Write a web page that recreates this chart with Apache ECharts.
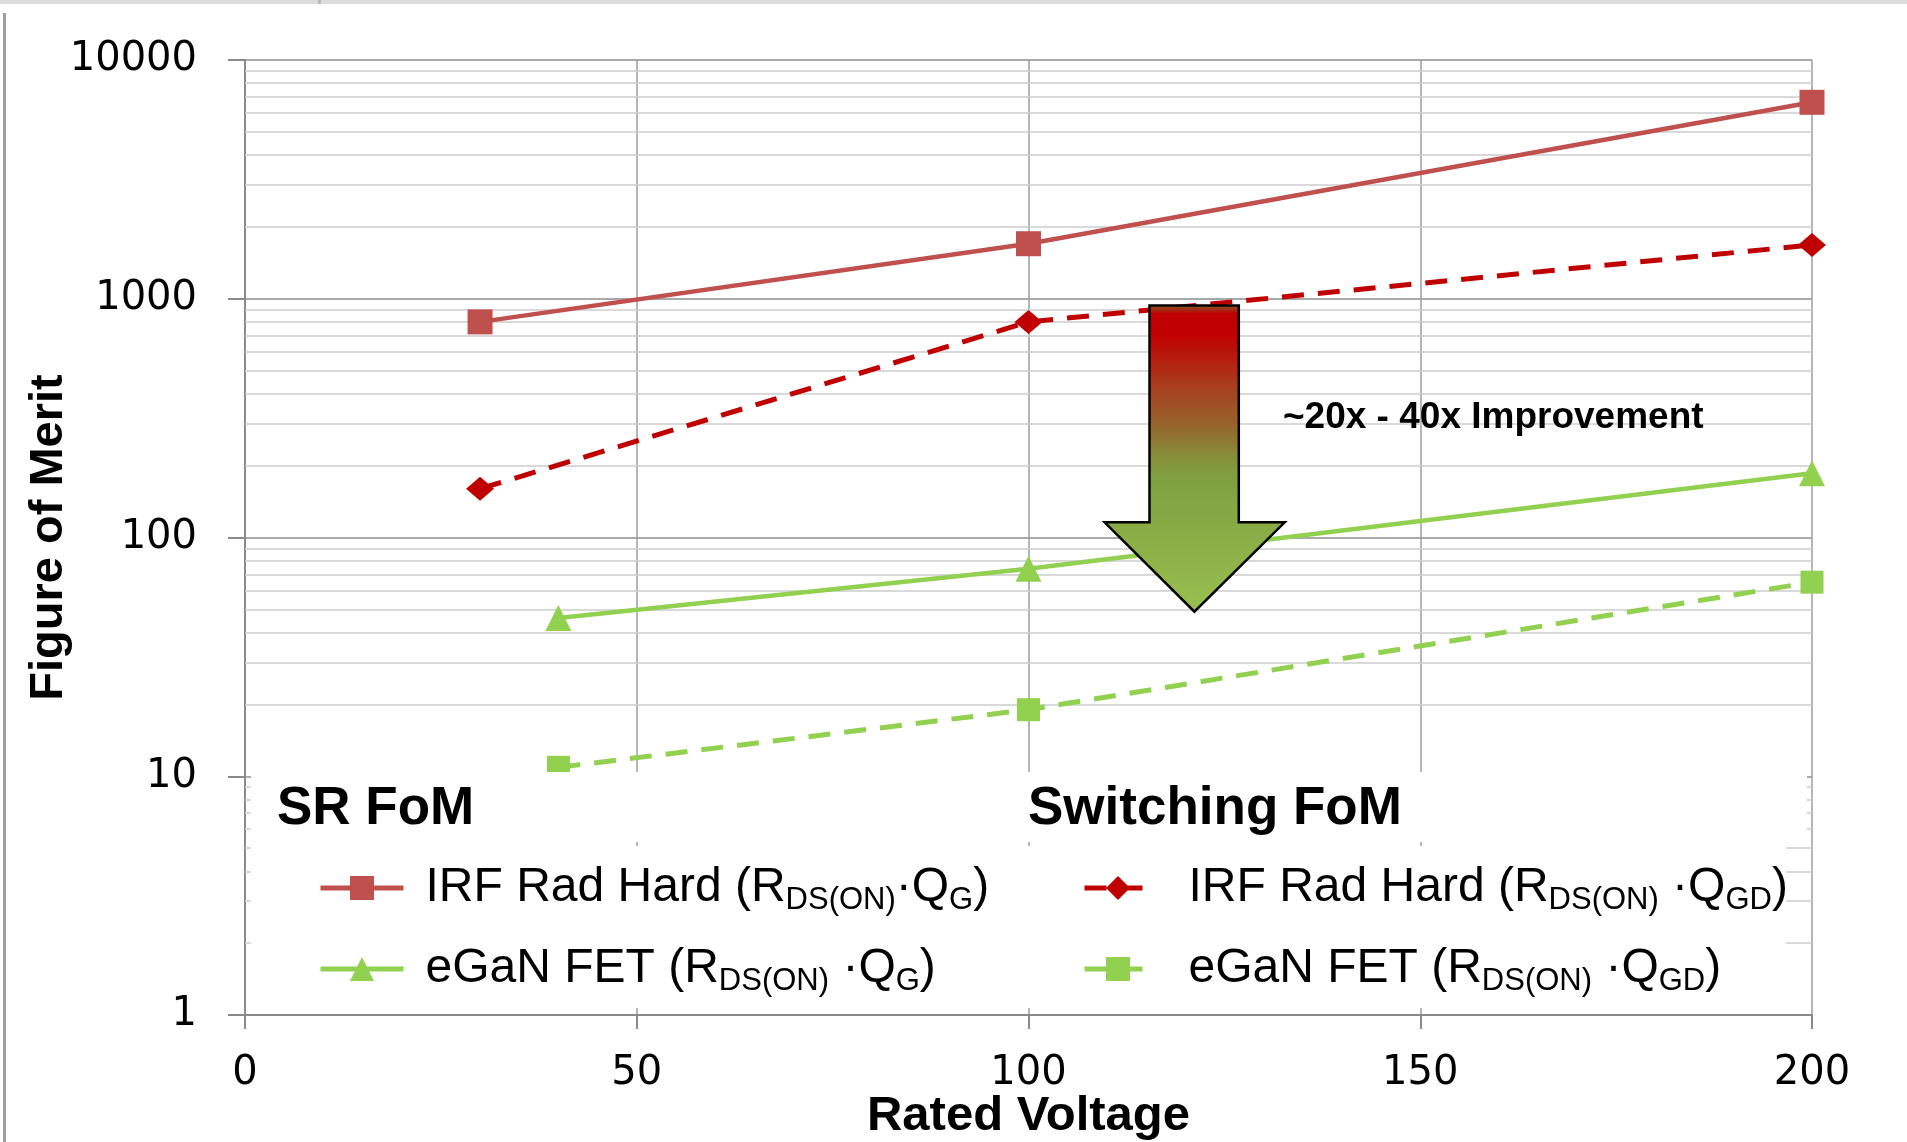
<!DOCTYPE html>
<html>
<head>
<meta charset="utf-8">
<script src="https://cdn.jsdelivr.net/npm/echarts@6/dist/echarts.min.js"></script>
<style>
html,body{margin:0;padding:0;background:#fff}
#main{width:1907px;height:1142px}
</style>
</head>
<body>
<div id="main"></div>
<script>
// 数据
var voltsIrf = [30, 100, 200];
var voltsGan = [40, 100, 200];
var irfQg = [800, 1700, 6650];
var irfQgd = [160, 800, 1680];
var ganQg = [46, 74, 186];
var ganQgd = [10.9, 19, 65];
var seriesNames = ['IRF Rad Hard QG', 'IRF Rad Hard QGD', 'eGaN FET QG', 'eGaN FET QGD'];
var legendLabels = {
	'IRF Rad Hard QG': '{p| }{m|IRF Rad Hard (R}{s|DS(ON)}{m|·Q}{s|G}{m|)}',
	'eGaN FET QG': '{p| }{m|eGaN FET (R}{s|DS(ON)}{m| ·Q}{s|G}{m|)}',
	'IRF Rad Hard QGD': '{p| }{m|IRF Rad Hard (R}{s|DS(ON)}{m| ·Q}{s|GD}{m|)}',
	'eGaN FET QGD': '{p| }{m|eGaN FET (R}{s|DS(ON)}{m| ·Q}{s|GD}{m|)}'
};
var yTicks = [1, 10, 100, 1000, 10000];
var minorSteps = [2, 3, 4, 5, 6, 7, 8, 9];

function pairs(xs, ys){
	var out = [];
	for (var i = 0; i < xs.length; i++) out.push([xs[i], ys[i]]);
	return out;
}

// 次网格线 (2..9 每个十倍程)
var minorLines = [];
for (var d = 0; d < yTicks.length - 1; d++) {
	for (var k = 0; k < minorSteps.length; k++) {
		minorLines.push({yAxis: yTicks[d] * minorSteps[k]});
	}
}

var FONT = 'Liberation Sans';
function makeRich(pad){
	return {
		p: {width: pad, fontSize: 10},
		m: {fontSize: 48, fontFamily: FONT, lineHeight: 56, color: '#000'},
		s: {fontSize: 31, fontFamily: FONT, lineHeight: 12, verticalAlign: 'bottom', color: '#000'}
	};
}
function legendFmt(name){ return legendLabels[name]; }

var red = '#C0504D', darkRed = '#C00000', green = '#92D050';

var arrowFill = new echarts.graphic.LinearGradient(0, 0, 0, 1, [
	{offset: 0, color: '#7a6a30'},
	{offset: 0.03, color: '#C00000'},
	{offset: 0.1, color: '#C00000'},
	{offset: 0.27, color: '#A8401E'},
	{offset: 0.38, color: '#97602A'},
	{offset: 0.5, color: '#86903A'},
	{offset: 0.56, color: '#7FA040'},
	{offset: 0.8, color: '#8DB048'},
	{offset: 1, color: '#99C050'}
]);

var myChart = echarts.init(document.getElementById('main'));
var option = {
	animation: false,
	backgroundColor: '#fff',
	grid: {left: 245, right: 95, top: 60, bottom: 127, containLabel: false, outerBoundsMode: 'none'},
	xAxis: {
		type: 'value', min: 0, max: 200, interval: 50,
		name: 'Rated Voltage', nameLocation: 'middle', nameGap: 77, nameMoveOverlap: false,
		nameTextStyle: {fontFamily: FONT, fontWeight: 'bold', fontSize: 49, color: '#000'},
		axisLine: {show: true, lineStyle: {color: '#8A8A8A', width: 2}},
		axisTick: {show: true, length: 14, lineStyle: {color: '#8A8A8A', width: 2}},
		axisLabel: {fontFamily: 'DejaVu Sans', fontSize: 40, color: '#000', margin: 39},
		splitLine: {show: true, lineStyle: {color: '#9C9C9C', width: 1.5}}
	},
	yAxis: {
		type: 'log', logBase: 10, min: 1, max: 10000,
		name: 'Figure of Merit', nameLocation: 'middle', nameGap: 172, nameRotate: 90, nameMoveOverlap: false,
		nameTextStyle: {fontFamily: FONT, fontWeight: 'bold', fontSize: 47, color: '#000'},
		axisLine: {show: true, lineStyle: {color: '#8A8A8A', width: 2}},
		axisTick: {show: true, length: 17, lineStyle: {color: '#8A8A8A', width: 2}},
		axisLabel: {fontFamily: 'DejaVu Sans', fontSize: 40, color: '#000', margin: 48,
			formatter: function(v){ return String(Math.round(v)); }},
		splitLine: {show: true, lineStyle: {color: '#8C8C8C', width: 1.5}}
	},
	legend: [
		{data: [seriesNames[0], seriesNames[2]], orient: 'vertical', left: 318, top: 864,
			itemWidth: 83, itemHeight: 30, itemGap: 29, padding: 0, selectedMode: false,
			lineStyle: {width: 5},
			formatter: legendFmt, textStyle: {fontSize: 48, fontFamily: FONT, rich: makeRich(17)}},
		{data: [seriesNames[1], seriesNames[3]], orient: 'vertical', left: 1082, top: 864,
			itemWidth: 67, itemHeight: 30, itemGap: 29, padding: 0, selectedMode: false,
			lineStyle: {width: 5},
			formatter: legendFmt, textStyle: {fontSize: 48, fontFamily: FONT, rich: makeRich(32)}}
	],
	series: [
		{name: 'minor', type: 'line', data: [], z: 1, silent: true,
			markLine: {silent: true, z: 1, symbol: ['none', 'none'], label: {show: false},
				lineStyle: {color: '#CDCDCD', width: 1.5, type: 'solid'}, emphasis: {disabled: true},
				data: minorLines}},
		{name: seriesNames[0], type: 'line', data: pairs(voltsIrf, irfQg), z: 2,
			symbol: 'rect', symbolSize: 25, itemStyle: {color: red},
			lineStyle: {color: red, width: 4.5}},
		{name: seriesNames[1], type: 'line', data: pairs(voltsIrf, irfQgd), z: 2,
			symbol: 'diamond', symbolSize: [28, 24], itemStyle: {color: darkRed},
			lineStyle: {color: darkRed, width: 5, type: [22, 14]}},
		{name: seriesNames[2], type: 'line', data: pairs(voltsGan, ganQg), z: 2,
			symbol: 'triangle', symbolSize: 26, itemStyle: {color: green},
			lineStyle: {color: green, width: 4.5}},
		{name: seriesNames[3], type: 'line', data: pairs(voltsGan, ganQgd), z: 2,
			symbol: 'rect', symbolSize: 23, itemStyle: {color: green},
			lineStyle: {color: green, width: 5, type: [22, 14]}}
	],
	graphic: [
		{type: 'rect', z: 10, shape: {x: 0, y: 0, width: 1907, height: 4}, style: {fill: '#DCDCDC'}},
		{type: 'rect', z: 10, shape: {x: 318, y: 0, width: 3, height: 4}, style: {fill: '#B8B8B8'}},
		{type: 'rect', z: 10, shape: {x: 3, y: 13, width: 3, height: 1129}, style: {fill: '#A0A0A0'}},
		// 图例背景
		{type: 'rect', z: 3, shape: {x: 251, y: 772, width: 1556, height: 70}, style: {fill: '#fff'}},
		{type: 'rect', z: 3, shape: {x: 251, y: 846, width: 1535, height: 162}, style: {fill: '#fff'}},
		{type: 'text', z: 5, style: {text: 'SR FoM', x: 277, y: 809, font: 'bold 53px "Liberation Sans"', fill: '#000', verticalAlign: 'middle'}},
		{type: 'text', z: 5, style: {text: 'Switching FoM', x: 1028, y: 809, font: 'bold 53px "Liberation Sans"', fill: '#000', verticalAlign: 'middle'}},
		// 箭头
		{type: 'polygon', z: 6, shape: {points: [[1149.5, 305.5], [1238.8, 305.5], [1238.8, 522.3], [1284.7, 522.3], [1194.4, 611.7], [1104.6, 522.3], [1149.5, 522.3]]},
			style: {fill: arrowFill, stroke: '#000', lineWidth: 2.5}},
		{type: 'text', z: 6, style: {text: '~20x - 40x Improvement', x: 1283, y: 418, font: 'bold 37px "Liberation Sans"', fill: '#000', verticalAlign: 'middle'}}
	]
};
myChart.setOption(option);
</script>
</body>
</html>
